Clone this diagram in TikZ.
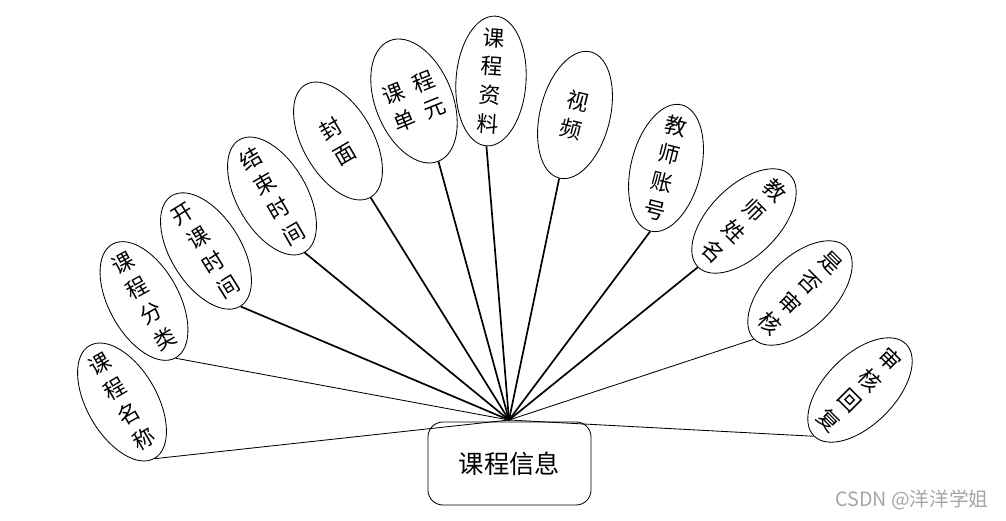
\documentclass[tikz,border=0pt]{standalone}
\usepackage{fontspec}
\usepackage{tikz}
\usepackage{xcolor}
\usetikzlibrary{shapes.geometric, positioning}
\newfontfamily\cjk{Noto Sans CJK SC}
\definecolor{cMark}{RGB}{165,165,165}
\tikzset{
	attr/.style={ellipse, draw=black, line width=0.6pt, minimum width=1.75cm, minimum height=3.25cm, inner xsep=0pt, inner ysep=-0.7cm, align=center, font=\cjk\fontsize{15.5}{20.5}\selectfont},
	entity/.style={rectangle, rounded corners=0.375cm, draw=black, line width=0.6pt, minimum width=4.075cm, minimum height=2.075cm, font=\cjk\fontsize{18}{22}\selectfont},
	% connectors to the entity
	link/.style={line width=1.2pt},
	thinlink/.style={line width=0.6pt},
}
\begin{document}
\begin{tikzpicture}[x=0.025cm, y=0.025cm]
	\useasboundingbox (0,0) rectangle (1006,520);
	\node[entity] (info) at (509.5,56.5) {课程信息};
	\coordinate (hub) at (509,100);
	\node[attr, rotate=30] (name) at (122,118) {课\\程\\名\\称};
	\node[attr, rotate=29] (kind) at (144,219) {课\\程\\分\\类};
	\node[attr, rotate=32] (start) at (206,269) {开\\课\\时\\间};
	\node[attr, rotate=30] (stop) at (272,324) {结\\束\\时\\间};
	\node[attr, rotate=30] (cover) at (338,379) {封\\面};
	\node[attr, rotate=22] (unit) at (414,419) {课\enspace 程\\单\enspace 元};
	\node[attr, rotate=-4] (data) at (491,439) {课\\程\\资\\料};
	\node[attr, rotate=-14] (video) at (575,405) {视\\频};
	\node[attr, rotate=-14] (tacc) at (666,352) {教\\师\\账\\号};
	\node[attr, rotate=-45] (tname) at (744,299) {教\\师\\姓\\名};
	\node[attr, rotate=-45] (audit) at (800,227) {是\\否\\审\\核};
	\node[attr, rotate=-45] (reply) at (860,130) {审\\核\\回\\复};
	\draw[thinlink] (name.south) -- (hub);
	\draw[thinlink] (kind.south) -- (hub);
	\draw[link] (start.south) -- (hub);
	\draw[link] (stop.south) -- (hub);
	\draw[link] (cover.south) -- (hub);
	\draw[link] (unit.south) -- (hub);
	\draw[link] (data.south) -- (hub);
	\draw[link] (video.south) -- (hub);
	\draw[link] (tacc.south) -- (hub);
	\draw[link] (tname.south) -- (hub);
	\draw[thinlink] (audit.south) -- (hub);
	\draw[thinlink] (reply.south) -- (hub);
	\node[text=cMark, font=\cjk\fontsize{14}{16}\selectfont] (mark) at (912,20) {CSDN @洋洋学姐};
\end{tikzpicture}
\end{document}
